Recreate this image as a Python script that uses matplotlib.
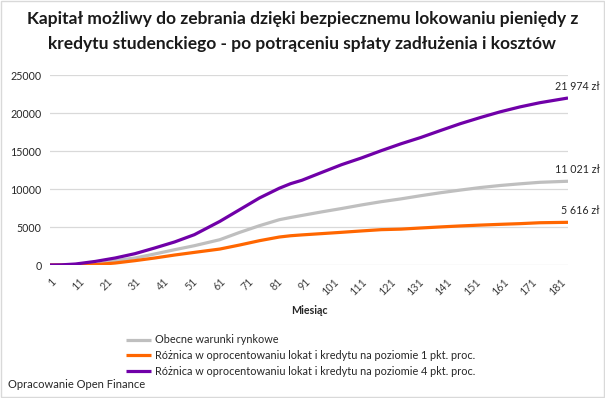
import matplotlib.pyplot as plt
from matplotlib.patches import Rectangle

plt.rcParams['font.family'] = ['Lato', 'DejaVu Sans']

# == data == #
months = [1, 5, 10, 17, 24, 31, 38, 45, 52, 61, 68, 75, 82, 86, 90, 97, 104,
          111, 118, 125, 132, 139, 146, 153, 160, 167, 174, 184]

obecne = [0, 0, 0, 60, 570, 920, 1450, 2010, 2540, 3330, 4290, 5170, 5960,
          6250, 6520, 6990, 7430, 7900, 8330, 8700, 9120, 9510, 9860, 10190,
          10460, 10680, 10880, 11021]
roznica_1 = [0, 0, 0, 40, 260, 570, 920, 1310, 1660, 2100, 2630, 3200, 3680,
             3850, 3960, 4130, 4300, 4480, 4650, 4720, 4870, 5010, 5140, 5250,
             5350, 5440, 5560, 5616]
roznica_4 = [0, 20, 130, 470, 920, 1490, 2240, 3030, 3990, 5740, 7280, 8820,
             10100, 10700, 11150, 12180, 13200, 14080, 15040, 15950, 16780,
             17700, 18600, 19400, 20150, 20800, 21350, 21974]

series_names = ['Obecne warunki rynkowe',
                'Różnica w oprocentowaniu lokat i kredytu na poziomie 1 pkt. proc.',
                'Różnica w oprocentowaniu lokat i kredytu na poziomie 4 pkt. proc.']
end_labels = ['11 021 zł', '5 616 zł', '21 974 zł']
x_ticks = list(range(1, 182, 10))
y_ticks = [0, 5000, 10000, 15000, 20000, 25000]

colors = ['#bfbfbf', '#ff6600', '#7000a8']

fig = plt.figure(figsize=(6.05, 3.98), dpi=100)
ax = fig.add_axes([50/605, 1 - 265/398, 518/605, 190/398])

lines = []
for vals, name, col, lab in zip([obecne, roznica_1, roznica_4], series_names, colors, end_labels):
    ln, = ax.plot(months, vals, color=col, lw=2.3, label=name, solid_capstyle='butt')
    lines.append(ln)
    ax.annotate(lab, (months[-1], vals[-1]), xytext=(23, 8.5), textcoords='offset points',
                ha='right', va='center', fontsize=7.7, color='#262626')

ax.set_xlim(1, 184)
ax.set_ylim(0, 25000)
ax.set_xticks(x_ticks)
ax.set_xticklabels([str(t) for t in x_ticks], rotation=45, ha='right', rotation_mode='anchor',
                   fontsize=7.7, color='#404040')
ax.set_yticks(y_ticks)
ax.set_yticklabels([str(t) for t in y_ticks], fontsize=7.7, color='#262626')
ax.tick_params(length=0, pad=6)
ax.tick_params(axis='x', pad=8)
ax.grid(axis='y', color='#d9d9d9', lw=0.9)
ax.set_axisbelow(True)
for s in ax.spines.values():
    s.set_visible(False)

fig.text(309/605, 1 - 310/398, 'Miesiąc', ha='center', va='center', fontsize=7.7,
         fontweight='bold', color='#262626')

fig.text(0.5, 1 - 19/398, 'Kapitał możliwy do zebrania dzięki bezpiecznemu lokowaniu pieniędy z',
         ha='center', va='center', fontsize=12.5, fontweight='bold', color='#1a1a1a')
fig.text(0.5, 1 - 44/398, 'kredytu studenckiego - po potrąceniu spłaty zadłużenia i kosztów',
         ha='center', va='center', fontsize=12.5, fontweight='bold', color='#1a1a1a')

fig.legend(handles=lines, loc='upper left', bbox_to_anchor=(121/605, 1 - 329/398),
           frameon=False, fontsize=7.8, handlelength=2.3, handletextpad=0.3,
           labelspacing=0.45, borderpad=0, labelcolor='#262626')

fig.text(8/605, 1 - 385/398, 'Opracowanie Open Finance', ha='left', va='center',
         fontsize=8, color='#262626')

fig.patches.append(Rectangle((0.001, 0.002), 0.997, 0.996, transform=fig.transFigure,
                             fill=False, edgecolor='#d9d9d9', lw=1))

fig.savefig('out.png', dpi=100)
